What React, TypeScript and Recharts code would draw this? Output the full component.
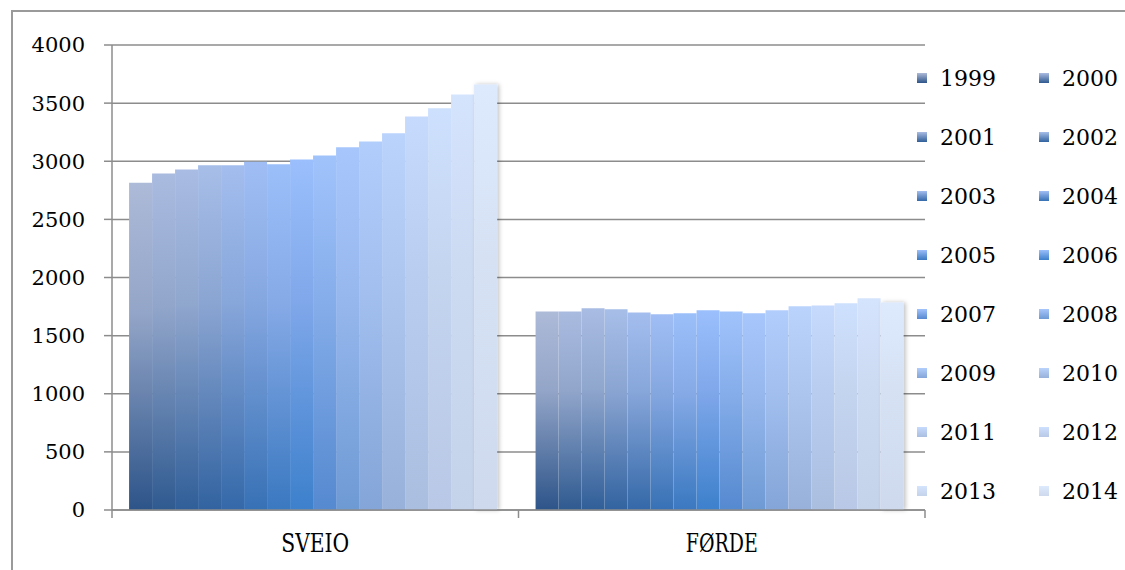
import { Bar, BarChart, CartesianGrid, XAxis, YAxis } from 'recharts';

const years = [
  '1999', '2000', '2001', '2002', '2003', '2004', '2005', '2006',
  '2007', '2008', '2009', '2010', '2011', '2012', '2013', '2014',
];
const places = ['SVEIO', 'FØRDE'];
const sveio = [2815, 2895, 2930, 2965, 2965, 2995, 2975, 3015, 3050, 3120, 3170, 3240, 3385, 3455, 3575, 3660];
const forde = [1708, 1708, 1735, 1726, 1700, 1684, 1692, 1718, 1708, 1692, 1718, 1752, 1760, 1778, 1822, 1786];
const yTicks = [0, 500, 1000, 1500, 2000, 2500, 3000, 3500, 4000];

// bottom / middle / top colour of each year's gradient
const bottomColors = [
  '#2d5489', '#2f5a90', '#305e98', '#3263a0', '#3468a8', '#3771b5', '#3a78c0', '#3d80cc',
  '#5589d0', '#6e9ad4', '#84a5d8', '#98b1da', '#aabfe0', '#b8c8e6', '#c4d2ea', '#ced9ee',
];
const midColors = [
  '#93a5c8', '#91a5ca', '#8fa6cd', '#8ba5d2', '#87a6da', '#85a7e0', '#86aae6', '#80a8ea',
  '#86aeea', '#97b8ee', '#a2bfef', '#adc6f0', '#b8cdf0', '#c4d5f0', '#ccdbf2', '#d6e2f4',
];
const topColors = [
  '#adbad8', '#aabbe0', '#a9bce3', '#a6bee8', '#a3bdee', '#a0bef5', '#9bbff9', '#9bbffc',
  '#a1c3fc', '#a7c6fc', '#b1cdfc', '#bad3fc', '#c5dafd', '#cde0fd', '#d5e4fd', '#dde9fd',
];

const data = places.map((name, i) => {
  const row: Record<string, string | number> = { name };
  const vals = i === 0 ? sveio : forde;
  years.forEach((y, j) => {
    row[y] = vals[j];
  });
  return row;
});

const GRID = '#8c8c8c';
const FONT = '"DejaVu Serif", serif';

function PlaceTick(props: any) {
  const { x, y, payload, index, width } = props;
  const half = payload?.offset ?? width / places.length / 2;
  const axisY = y - 8;
  const last = index === places.length - 1;
  return (
    <g>
      <line x1={x - half} x2={x - half} y1={axisY} y2={axisY + 8} stroke={GRID} strokeWidth={1.5} />
      {last && <line x1={x + half} x2={x + half} y1={axisY} y2={axisY + 8} stroke={GRID} strokeWidth={1.5} />}
      <text
        x={x}
        y={axisY + 42}
        textAnchor="middle"
        textLength={payload.value === 'SVEIO' ? 68 : 72}
        lengthAdjust="spacingAndGlyphs"
        fontFamily={FONT}
        fontSize={26}
        fill="#000"
      >
        {payload.value}
      </text>
    </g>
  );
}

export default function App() {
  return (
    <div
      style={{
        position: 'absolute',
        left: 0,
        top: 0,
        width: 1125,
        height: 570,
        overflow: 'hidden',
        background: '#fff',
      }}
    >
      <div
        style={{
          position: 'absolute',
          left: 11,
          top: 10,
          width: 1114,
          height: 570,
          borderLeft: '2px solid #9a9a9a',
          borderTop: '2px solid #9a9a9a',
        }}
      />
      <BarChart
        width={1117}
        height={562}
        data={data}
        margin={{ top: 37, right: 200, left: 0, bottom: 0 }}
        barCategoryGap="4.2%"
        barGap={0}
        style={{ position: 'absolute', left: 8, top: 8 }}
      >
        <defs>
          {years.map((y, i) => (
            <linearGradient key={y} id={`g${y}`} x1="0" y1="1" x2="0" y2="0">
              <stop offset="0" stopColor={bottomColors[i]} />
              <stop offset="0.6" stopColor={midColors[i]} />
              <stop offset="1" stopColor={topColors[i]} />
            </linearGradient>
          ))}
          <filter id="shade" x="-20%" y="-5%" width="160%" height="110%">
            <feDropShadow dx="2" dy="0" stdDeviation="2" floodColor="#000" floodOpacity="0.25" />
          </filter>
        </defs>
        <CartesianGrid vertical={false} stroke={GRID} strokeWidth={1.5} />
        <XAxis
          dataKey="name"
          height={60}
          axisLine={{ stroke: GRID, strokeWidth: 1.5 }}
          tickLine={false}
          tickSize={8}
          tickMargin={0}
          interval={0}
          tick={<PlaceTick />}
        />
        <YAxis
          width={104}
          domain={[0, 4000]}
          ticks={yTicks}
          interval={0}
          axisLine={{ stroke: GRID, strokeWidth: 1.5 }}
          tickLine={{ stroke: GRID, strokeWidth: 1.5 }}
          tickSize={8}
          tickMargin={19}
          tick={{ fontFamily: FONT, fontSize: 21, fill: '#000' }}
        />
        {years.map((y, i) => (
          <Bar
            key={y}
            dataKey={y}
            fill={`url(#g${y})`}
            filter={i === years.length - 1 ? 'url(#shade)' : undefined}
            isAnimationActive={false}
          />
        ))}
      </BarChart>
      {years.map((y, i) => {
        const col = i % 2;
        const row = Math.floor(i / 2);
        return (
          <div
            key={y}
            style={{
              position: 'absolute',
              left: 917 + col * 122,
              top: 78 + row * 59 - 14,
              height: 28,
              display: 'flex',
              alignItems: 'center',
              fontFamily: FONT,
              fontSize: 22,
              color: '#000',
            }}
          >
            <span
              style={{
                width: 10,
                height: 10,
                marginRight: 13,
                background: `linear-gradient(to top, ${bottomColors[i]}, ${topColors[i]})`,
              }}
            />
            {y}
          </div>
        );
      })}
    </div>
  );
}
